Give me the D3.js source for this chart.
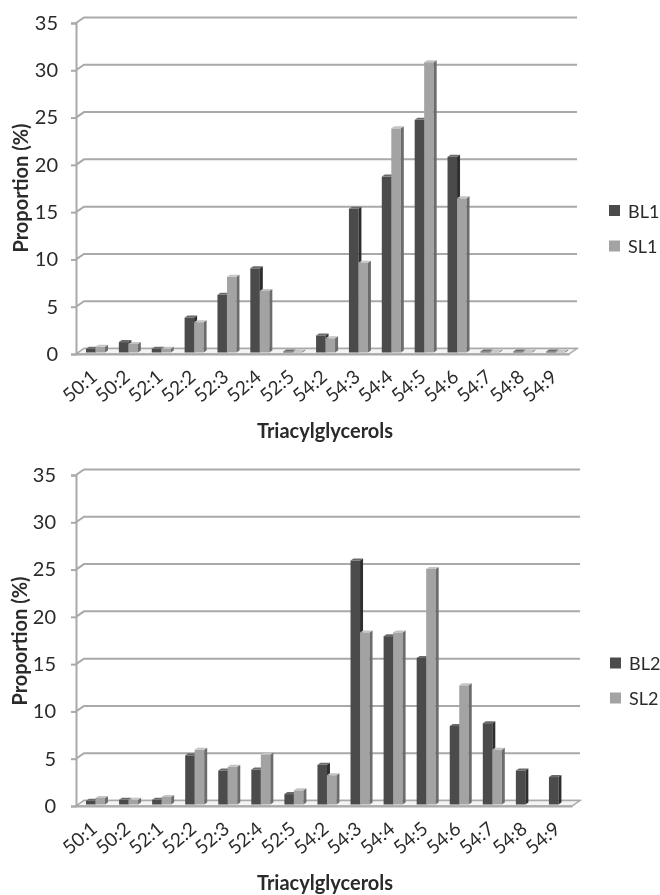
<!DOCTYPE html>
<html>
<head>
<meta charset="utf-8">
<script src="https://cdn.jsdelivr.net/npm/d3@7"></script>
<style>
  html, body { margin: 0; padding: 0; background: #fff; }
  svg { display: block; }
  text { font-family: Lato, sans-serif; fill: #2b2b2b; }
</style>
</head>
<body>
<div id="chart"></div>
<script>
const categories = ["50:1","50:2","52:1","52:2","52:3","52:4","52:5","54:2","54:3","54:4","54:5","54:6","54:7","54:8","54:9"];
const yTicks = [0, 5, 10, 15, 20, 25, 30, 35];
const bl1 = [0.4, 1.1, 0.4, 3.7, 6.1, 8.9, 0.1, 1.8, 15.2, 18.6, 24.6, 20.7, 0.1, 0.1, 0.1];
const sl1 = [0.6, 0.9, 0.4, 3.2, 8.0, 6.5, 0.1, 1.5, 9.5, 23.7, 30.7, 16.3, 0.1, 0.1, 0.1];
const bl2 = [0.4, 0.5, 0.5, 5.2, 3.6, 3.7, 1.1, 4.2, 25.8, 17.8, 15.5, 8.3, 8.6, 3.6, 2.9];
const sl2 = [0.7, 0.5, 0.8, 5.8, 4.0, 5.3, 1.5, 3.1, 18.2, 18.2, 24.9, 12.6, 5.8, 0, 0];

const width = 660, height = 895;
const gridColor = "#a9a9a9";
const depthX = 8, depthY = 5.5;   // floor skew of the fake 3d
const barDepthX = 3, barDepthY = 2;
const colors = [
    {front: "#4b4b4b", side: "#2f2f2f", top: "#6b6b6b"},
    {front: "#a3a3a3", side: "#6c6c6c", top: "#c4c4c4"}
];

const svg = d3.select("#chart").append("svg")
    .attr("width", width)
    .attr("height", height);

const defs = svg.append("defs");
defs.append("filter").attr("id", "soft")
    .append("feGaussianBlur").attr("stdDeviation", 0.55);

function drawPanel(cfg) {
    const g = svg.append("g").attr("filter", "url(#soft)");

    const x = d3.scaleBand().domain(categories).range([cfg.left, cfg.right]);
    const y = d3.scaleLinear().domain([0, 35]).range([cfg.bottom, cfg.top]);
    const barX = d3.scaleBand().domain([0, 1]).range([0, 19]);
    const barOffset = 10;

    // gridlines on the back wall, with the little diagonal down to the tick
    yTicks.forEach(t => {
        const yy = y(t);
        g.append("path")
            .attr("d", `M${cfg.left},${yy} L${cfg.left + depthX},${yy - depthY} L${cfg.right + depthX},${yy - depthY}`)
            .attr("fill", "none")
            .attr("stroke", gridColor)
            .attr("stroke-width", t === 0 ? 1.5 : 2);
    });

    // floor
    g.append("path")
        .attr("d", `M${cfg.left},${y(0)} L${cfg.left + depthX},${y(0) - depthY} L${cfg.right + depthX},${y(0) - depthY} L${cfg.right},${y(0)} Z`)
        .attr("fill", "#f4f4f4")
        .attr("stroke", gridColor)
        .attr("stroke-width", 1.5);

    // axes
    const yAxis = g.append("g")
        .attr("transform", `translate(${cfg.left},0)`)
        .call(d3.axisLeft(y).tickValues(yTicks).tickSize(5).tickPadding(cfg.tickPad));
    yAxis.selectAll("path, line").attr("stroke", gridColor).attr("stroke-width", 2);
    yAxis.selectAll("text").attr("font-family", "Lato").attr("font-size", 20).attr("fill", "#2b2b2b");

    const xAxis = g.append("g")
        .attr("transform", `translate(0,${cfg.bottom})`)
        .call(d3.axisBottom(x).tickSize(0).tickPadding(0));
    xAxis.select("path").attr("stroke", gridColor).attr("stroke-width", 2);
    xAxis.selectAll("text")
        .attr("font-family", "Lato")
        .attr("font-size", 19)
        .attr("fill", "#2b2b2b")
        .attr("text-anchor", "end")
        .attr("dy", 0)
        .attr("transform", "translate(6,25) rotate(-40)");

    // bars, back series first so the second one sits over it
    cfg.series.forEach((values, s) => {
        const c = colors[s];
        const bars = g.append("g").selectAll("g")
            .data(values.map((v, i) => ({cat: categories[i], v})))
            .join("g")
            .attr("transform", d => `translate(${x(d.cat) + barOffset + barX(s)},0)`);
        const w = barX.bandwidth();
        const base = cfg.bottom - 1.5;
        const scaleBar = v => base - (y(0) - y(v));
        bars.filter(d => d.v > 0).append("rect")
            .attr("y", d => scaleBar(d.v))
            .attr("width", w)
            .attr("height", d => base - scaleBar(d.v))
            .attr("fill", c.front);
        bars.filter(d => d.v > 0).append("path")
            .attr("d", d => `M${w},${scaleBar(d.v)} l${barDepthX},${-barDepthY} L${w + barDepthX},${base - barDepthY} L${w},${base} Z`)
            .attr("fill", c.side);
        bars.filter(d => d.v > 0).append("path")
            .attr("d", d => `M0,${scaleBar(d.v)} l${barDepthX},${-barDepthY} h${w} l${-barDepthX},${barDepthY} Z`)
            .attr("fill", c.top);
    });

    // titles
    g.append("text")
        .attr("transform", `translate(${cfg.yTitleX},${cfg.yTitleY}) rotate(-90)`)
        .attr("text-anchor", "middle")
        .attr("font-size", 20)
        .attr("font-weight", 700)
        .attr("fill", "#1c1c1c")
        .text("Proportion (%)");
    g.append("text")
        .attr("x", cfg.xTitleX)
        .attr("y", cfg.xTitleY)
        .attr("text-anchor", "middle")
        .attr("font-size", 20)
        .attr("font-weight", 700)
        .attr("fill", "#1c1c1c")
        .text("Triacylglycerols");

    // legend
    cfg.names.forEach((name, s) => {
        const ly = cfg.legendY[s];
        g.append("rect")
            .attr("x", cfg.legendX).attr("y", ly - 5.5)
            .attr("width", 11).attr("height", 11)
            .attr("fill", colors[s].front);
        g.append("text")
            .attr("x", cfg.legendX + 19).attr("y", ly + 7)
            .attr("font-size", 18)
            .text(name);
    });
}

drawPanel({
    left: 76, right: 569, top: 23, bottom: 354, tickPad: 13,
    series: [bl1, sl1], names: ["BL1", "SL1"], legendX: 609,
    legendY: [210.5, 246], yTitleX: 28, yTitleY: 188, xTitleX: 325, xTitleY: 438
});

drawPanel({
    left: 76, right: 572, top: 475, bottom: 806, tickPad: 15,
    series: [bl2, sl2], names: ["BL2", "SL2"], legendX: 610,
    legendY: [663, 698], yTitleX: 27, yTitleY: 641, xTitleX: 325, xTitleY: 890
});
</script>
</body>
</html>
